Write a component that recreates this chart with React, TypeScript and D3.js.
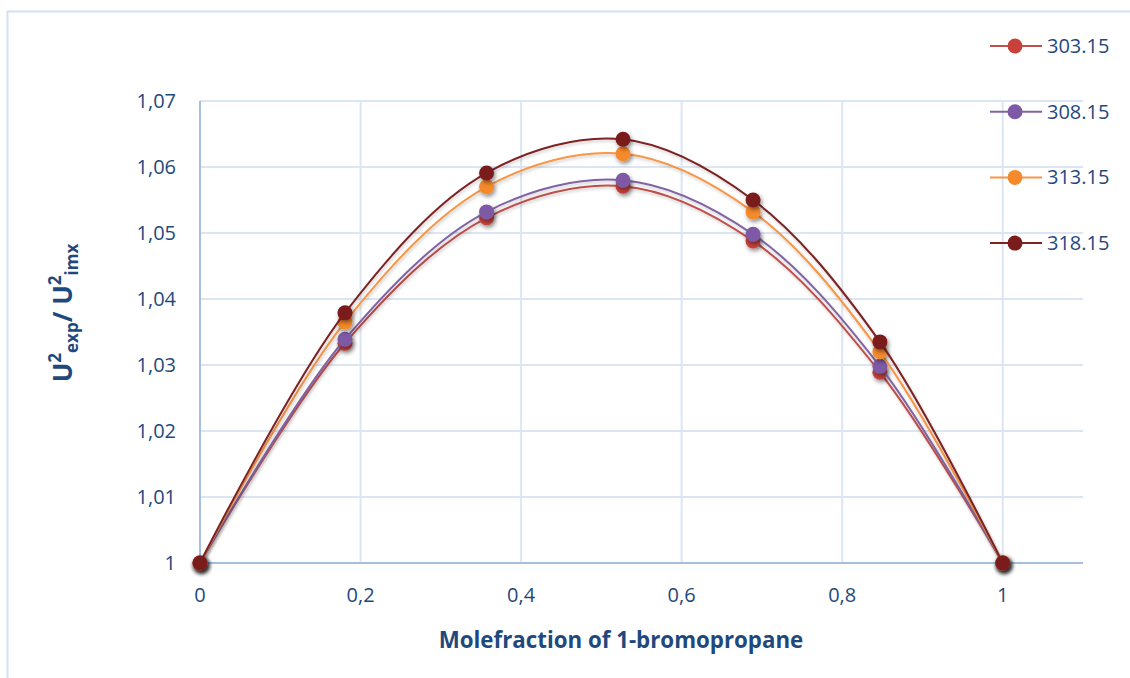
import React, { useEffect, useRef } from 'react'
import * as d3 from 'd3'

// mole fraction of 1-bromopropane
const moleFraction = [0, 0.1806, 0.357, 0.527, 0.689, 0.847, 1]

const series303 = [1, 1.0333, 1.0523, 1.0571, 1.0488, 1.0289, 1]
const series308 = [1, 1.0339, 1.0532, 1.058, 1.0498, 1.0298, 1]
const series313 = [1, 1.0365, 1.057, 1.062, 1.0532, 1.032, 1]
const series318 = [1, 1.0379, 1.0591, 1.0642, 1.055, 1.0335, 1]

const seriesNames = ['303.15', '308.15', '313.15', '318.15']
const seriesColors = ['#C0504D', '#8064A2', '#F79646', '#7B2423']
const markerColors = ['#C8423C', '#7E5AA6', '#F58A2C', '#7A1C1C']

const xTicks = [0, 0.2, 0.4, 0.6, 0.8, 1]
const yTicks = [1, 1.01, 1.02, 1.03, 1.04, 1.05, 1.06, 1.07]

const textColor = '#1F497D'
const gridColor = '#DCE6F2'
const axisColor = '#A7BFDE'
const font = '"Open Sans", sans-serif'

const App = () => {
  const svgRef = useRef(null)

  useEffect(() => {
    const width = 1130
    const height = 678
    const plot = { left: 200, right: 1083, top: 101, bottom: 563 }

    const svg = d3.select(svgRef.current)
    svg.selectAll('*').remove()

    const defs = svg.append('defs')
    const shadow = defs
      .append('filter')
      .attr('id', 'shadow')
      .attr('x', '-50%')
      .attr('y', '-50%')
      .attr('width', '200%')
      .attr('height', '200%')
    shadow
      .append('feDropShadow')
      .attr('dx', 1.5)
      .attr('dy', 2.5)
      .attr('stdDeviation', 2)
      .attr('flood-color', '#000')
      .attr('flood-opacity', 0.45)

    const lineShadow = defs
      .append('filter')
      .attr('id', 'line-shadow')
      .attr('x', '-10%')
      .attr('y', '-10%')
      .attr('width', '120%')
      .attr('height', '120%')
    lineShadow
      .append('feDropShadow')
      .attr('dx', 1)
      .attr('dy', 2)
      .attr('stdDeviation', 1.5)
      .attr('flood-color', '#000')
      .attr('flood-opacity', 0.2)

    // chart border
    svg
      .append('rect')
      .attr('x', 7.5)
      .attr('y', 11.5)
      .attr('width', width + 20)
      .attr('height', height + 20)
      .attr('fill', 'white')
      .attr('stroke', '#D5E1F1')
      .attr('stroke-width', 2)

    const x = d3.scaleLinear().domain([0, 1.1]).range([plot.left, plot.right])
    const y = d3.scaleLinear().domain([1, 1.07]).range([plot.bottom, plot.top])

    // gridlines
    const grid = svg.append('g')
    grid
      .selectAll('line.h')
      .data(yTicks.slice(1))
      .enter()
      .append('line')
      .attr('x1', plot.left)
      .attr('x2', plot.right)
      .attr('y1', (d) => y(d))
      .attr('y2', (d) => y(d))
      .attr('stroke', gridColor)
      .attr('stroke-width', 2)
    grid
      .selectAll('line.v')
      .data(xTicks.slice(1))
      .enter()
      .append('line')
      .attr('x1', (d) => x(d))
      .attr('x2', (d) => x(d))
      .attr('y1', plot.top)
      .attr('y2', plot.bottom)
      .attr('stroke', gridColor)
      .attr('stroke-width', 2)

    // axes lines
    svg
      .append('line')
      .attr('x1', plot.left)
      .attr('x2', plot.right)
      .attr('y1', plot.bottom)
      .attr('y2', plot.bottom)
      .attr('stroke', axisColor)
      .attr('stroke-width', 2)
    svg
      .append('line')
      .attr('x1', plot.left)
      .attr('x2', plot.left)
      .attr('y1', plot.top)
      .attr('y2', plot.bottom)
      .attr('stroke', axisColor)
      .attr('stroke-width', 2)

    const fmt = (d) => String(d).replace('.', ',')

    // tick labels
    svg
      .append('g')
      .selectAll('text')
      .data(xTicks)
      .enter()
      .append('text')
      .attr('x', (d) => x(d))
      .attr('y', 602)
      .attr('text-anchor', 'middle')
      .style('font-family', font)
      .style('font-size', '20px')
      .attr('fill', textColor)
      .text(fmt)

    svg
      .append('g')
      .selectAll('text')
      .data(yTicks)
      .enter()
      .append('text')
      .attr('x', 176)
      .attr('y', (d) => y(d) + 7)
      .attr('text-anchor', 'end')
      .style('font-family', font)
      .style('font-size', '20px')
      .attr('fill', textColor)
      .text(fmt)

    // axis titles
    svg
      .append('text')
      .attr('x', 621)
      .attr('y', 648)
      .attr('text-anchor', 'middle')
      .style('font-family', font)
      .style('font-size', '22.3px')
      .style('font-weight', 'bold')
      .attr('fill', textColor)
      .text('Molefraction of 1-bromopropane')

    const yTitle = svg
      .append('text')
      .attr('transform', 'translate(72, 313) rotate(-90)')
      .attr('text-anchor', 'middle')
      .style('font-family', font)
      .style('font-size', '26px')
      .style('font-weight', 'bold')
      .attr('fill', textColor)
    yTitle.append('tspan').text('U')
    yTitle.append('tspan').attr('dy', -11).style('font-size', '17px').text('2')
    yTitle.append('tspan').attr('dy', 17).style('font-size', '17px').text('exp')
    yTitle.append('tspan').attr('dy', -6).text('/ U')
    yTitle.append('tspan').attr('dy', -11).style('font-size', '17px').text('2')
    yTitle.append('tspan').attr('dy', 17).style('font-size', '17px').text('imx')

    // series
    const allSeries = [series303, series308, series313, series318]
    const line = d3
      .line()
      .x((d) => x(d[0]))
      .y((d) => y(d[1]))
      .curve(d3.curveCatmullRom.alpha(0.5))

    allSeries.forEach((values, i) => {
      const pts = moleFraction.map((m, j) => [m, values[j]])
      svg
        .append('path')
        .datum(pts)
        .attr('d', line)
        .attr('fill', 'none')
        .attr('stroke', seriesColors[i])
        .attr('stroke-width', 2)
        .attr('filter', 'url(#line-shadow)')
      svg
        .append('g')
        .selectAll('circle')
        .data(pts)
        .enter()
        .append('circle')
        .attr('cx', (d) => x(d[0]))
        .attr('cy', (d) => y(d[1]))
        .attr('r', 7.5)
        .attr('fill', markerColors[i])
        .attr('filter', 'url(#shadow)')
    })

    // legend
    const legend = svg
      .append('g')
      .selectAll('g')
      .data(seriesNames)
      .enter()
      .append('g')
      .attr('transform', (d, i) => `translate(990, ${46 + i * 65.7})`)
    legend
      .append('line')
      .attr('x1', 0)
      .attr('x2', 52)
      .attr('stroke', (d, i) => seriesColors[i])
      .attr('stroke-width', 2)
    legend
      .append('circle')
      .attr('cx', 25)
      .attr('r', 7.5)
      .attr('fill', (d, i) => markerColors[i])
    legend
      .append('text')
      .attr('x', 57)
      .attr('y', 7)
      .style('font-family', font)
      .style('font-size', '20px')
      .attr('fill', textColor)
      .text((d) => d)
  }, [])

  return <svg ref={svgRef} width={1130} height={678} style={{ position: 'absolute', left: 0, top: 0 }}></svg>
}

export default App
